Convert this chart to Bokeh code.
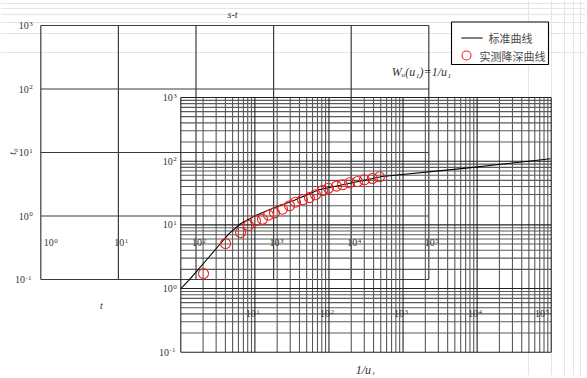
import math
from bokeh.plotting import figure
from bokeh.models import (Range1d, LogScale, ColumnDataSource, LabelSet, Label)
from bokeh.embed import file_html
from bokeh.resources import INLINE

# ---------------- data ----------------
# standard type curve  W(u1) vs 1/u1  (front grid)
curve_inv_u = [1.0, 1.28, 1.75, 2.39, 3.26, 4.45, 6.4, 10.2, 19.0, 33.5, 72.9, 523, 6620, 98000]
curve_w = [1.0, 1.34, 2.04, 3.10, 4.74, 7.23, 10.4, 14.0, 18.9, 24.1, 35.5, 57.4, 77.0, 109]

# measured drawdown s vs t (back grid)
obs_t = [125, 240, 375, 475, 585, 719, 860, 1028, 1302, 1603, 1915, 2356, 2893,
         3467, 4272, 5097, 6467, 7715, 9521, 12070, 14790, 18750, 23170]
obs_s = [0.124, 0.369, 0.550, 0.708, 0.84, 0.89, 1.03, 1.12, 1.28, 1.45, 1.65, 1.80, 1.95,
         2.16, 2.52, 2.74, 2.95, 3.10, 3.33, 3.49, 3.72, 3.90, 4.14]

series_names = ["标准曲线", "实测降深曲线"]

# tick values / exponent labels
back_x_ticks = [1, 10, 100, 1e3, 1e4, 1e5]
back_x_exp = ["0", "1", "2", "3", "4", "5"]
back_y_ticks = [0.1, 1, 10, 100, 1000]
back_y_exp = ["-1", "0", "1", "2", "3"]
front_x_ticks = [1, 10, 100, 1e3, 1e4, 1e5]
front_x_exp = ["0", "1", "2", "3", "4", "5"]
front_y_ticks = [0.1, 1, 10, 100, 1000]
front_y_exp = ["-1", "0", "1", "2", "3"]
minor_mult = [2, 3, 4, 5, 6, 7, 8, 9]

# ---------------- layout (page px) ----------------
W, H = 585, 375
FL, FR, FT, FB = 0.0, float(W), 0.0, float(H)     # frame = whole canvas
# front grid: 10^0 at x=180.3, 10^5 at 550.7 ; 10^-1 at y=351.7, 10^3 at y=97
fx0, fxd = 180.3, (550.7 - 180.3) / 5
fy0, fyd = 351.7, (351.7 - 97.0) / 4
# back grid: 10^0 at x=40.3, 10^5 at 428.3 ; 10^3 at y=25, 10^-1 at y=279
bx0, bxd = 40.3, (428.3 - 40.3) / 5
by0, byd = 279.0, (279.0 - 25.0) / 4

def fxv(X): return 10 ** ((X - fx0) / fxd)
def fyv(Y): return 10 ** (-1 + (fy0 - Y) / fyd)
def bxv(X): return 10 ** ((X - bx0) / bxd)
def byv(Y): return 10 ** (-1 + (by0 - Y) / byd)

p = figure(width=W, height=H, output_backend="svg", toolbar_location=None,
           x_range=Range1d(fxv(FL), fxv(FR)), y_range=Range1d(fyv(FB), fyv(FT)),
           x_axis_location=None, y_axis_location=None, title=None,
           min_border_left=0, min_border_right=0, min_border_top=0, min_border_bottom=0)
p.x_scale = LogScale()
p.y_scale = LogScale()
p.extra_x_ranges = {"bx": Range1d(bxv(FL), bxv(FR))}
p.extra_y_ranges = {"by": Range1d(byv(FB), byv(FT))}
p.extra_x_scales = {"bx": LogScale()}
p.extra_y_scales = {"by": LogScale()}
p.outline_line_color = None
p.background_fill_color = "white"
p.border_fill_color = "white"

LINE_DARK = "#222222"
LINE_MID = "#5a5a5a"
RED = "#ee2222"

# ---------------- back grid (s - t) ----------------
bxlo, bxhi = back_x_ticks[0], back_x_ticks[-1]
bylo, byhi = back_y_ticks[0], back_y_ticks[-1]
p.segment(x0=back_x_ticks, x1=back_x_ticks, y0=[bylo] * len(back_x_ticks), y1=[byhi] * len(back_x_ticks),
          x_range_name="bx", y_range_name="by", line_color="#3c3c3c", line_width=1.2)
p.segment(x0=[bxlo] * len(back_y_ticks), x1=[bxhi] * len(back_y_ticks), y0=back_y_ticks, y1=back_y_ticks,
          x_range_name="bx", y_range_name="by", line_color="#3c3c3c", line_width=1.2)

# ---------------- front grid (W - 1/u) ----------------
fxlo, fxhi = front_x_ticks[0], front_x_ticks[-1]
fylo, fyhi = front_y_ticks[0], front_y_ticks[-1]
fx_minor = [d * m for d in front_x_ticks[:-1] for m in minor_mult]
fy_minor = [d * m for d in front_y_ticks[:-1] for m in minor_mult]
p.segment(x0=fx_minor, x1=fx_minor, y0=[fylo] * len(fx_minor), y1=[fyhi] * len(fx_minor),
          line_color=LINE_MID, line_width=1.1)
p.segment(x0=[fxlo] * len(fy_minor), x1=[fxhi] * len(fy_minor), y0=fy_minor, y1=fy_minor,
          line_color=LINE_MID, line_width=1.1)
p.segment(x0=front_x_ticks, x1=front_x_ticks, y0=[fylo] * len(front_x_ticks), y1=[fyhi] * len(front_x_ticks),
          line_color=LINE_DARK, line_width=1.1)
p.segment(x0=[fxlo] * len(front_y_ticks), x1=[fxhi] * len(front_y_ticks), y0=front_y_ticks, y1=front_y_ticks,
          line_color=LINE_DARK, line_width=1.1)

# ---------------- curve and observations ----------------
p.line(curve_inv_u, curve_w, line_color="black", line_width=1.1)
p.scatter(obs_t, obs_s, x_range_name="bx", y_range_name="by", marker="circle",
          size=10, fill_color=None, line_color=RED, line_width=1.1)

# ---------------- legend (box with line / circle keys) ----------------
LG = dict(x_range_name="bx", y_range_name="by")
p.quad(left=[bxv(451)], right=[bxv(548)], top=[byv(21.5)], bottom=[byv(64)],
       fill_color="white", line_color="black", line_width=1.1, **LG)
p.segment(x0=[bxv(461)], x1=[bxv(482)], y0=[byv(37.5)], y1=[byv(37.5)],
          line_color="black", line_width=1.1, **LG)
p.scatter(x=[bxv(466)], y=[byv(55)], marker="circle", size=9, fill_color=None,
          line_color=RED, line_width=1.1, **LG)
for name, X, Y in zip(series_names, [488, 479], [37.5, 55]):
    p.add_layout(Label(x=bxv(X), y=byv(Y), text=name, text_align="left", text_baseline="middle",
                       text_font="Noto Sans CJK SC", text_font_size="11px", text_color="#4a4a4a", **LG))

# ---------------- tick labels: "10" + raised exponent ----------------
FONT = "Liberation Serif"
TXT = "#333333"
BASE_W = 10.0      # width of "10" at 10px
EXP_CH = 3.6       # width of one exponent char at 7px

def sci_labels(xs, ys, exps, align, xoff=0, xr="default", yr="default"):
    lefts = []
    for e in exps:
        total = BASE_W + 0.5 + EXP_CH * len(e)
        if align == "right":
            lefts.append(xoff - total)
        elif align == "center":
            lefts.append(xoff - total / 2)
        else:
            lefts.append(xoff)
    src = ColumnDataSource(dict(x=xs, y=ys, e=exps, b=["10"] * len(exps),
                                xb=lefts, xe=[l + BASE_W + 0.5 for l in lefts]))
    p.add_layout(LabelSet(x="x", y="y", text="b", source=src, x_range_name=xr, y_range_name=yr,
                          text_align="left", text_baseline="middle", x_offset="xb",
                          text_font=FONT, text_font_size="10px", text_color=TXT))
    p.add_layout(LabelSet(x="x", y="y", text="e", source=src, x_range_name=xr, y_range_name=yr,
                          text_align="left", text_baseline="bottom", x_offset="xe",
                          text_font=FONT, text_font_size="7px", text_color=TXT))

# back y labels (left of back grid)
sci_labels([bxlo] * len(back_y_ticks), back_y_ticks, back_y_exp, "right", -8, "bx", "by")
# back x labels (drawn inside, low band)
bylab = byv(242)
sci_labels(back_x_ticks[:1], [bylab], back_x_exp[:1], "left", 3, "bx", "by")
sci_labels(back_x_ticks[1:], [bylab] * (len(back_x_ticks) - 1), back_x_exp[1:], "center", 3, "bx", "by")
# front y labels
sci_labels([fxlo] * len(front_y_ticks), front_y_ticks, front_y_exp, "right", -4)
# front x labels (inside, low band)
fylab = fyv(313)
sci_labels(front_x_ticks[1:-1], [fylab] * (len(front_x_ticks) - 2), front_x_exp[1:-1], "center", -2)
sci_labels(front_x_ticks[-1:], [fylab], front_x_exp[-1:], "right", -2)

# ---------------- titles / annotations ----------------
def lab(text, X, Y, align="center", angle=0.0, size="10px", style="italic", font=FONT):
    p.add_layout(Label(x=bxv(X), y=byv(Y), x_range_name="bx", y_range_name="by", text=text,
                       text_align=align, text_baseline="middle", angle=angle,
                       text_font=font, text_font_size=size, text_font_style=style,
                       text_color=TXT))

lab("s-t", 232, 14)
lab("t", 101, 305)
lab("t₀", 12, 151, angle=math.pi / 2)
lab("1/u₁", 365, 369, size="12px")
lab("Wᵤ(u₁)=1/u₁", 421, 71, size="12px")

open("out.html", "w").write(file_html(p, INLINE))
